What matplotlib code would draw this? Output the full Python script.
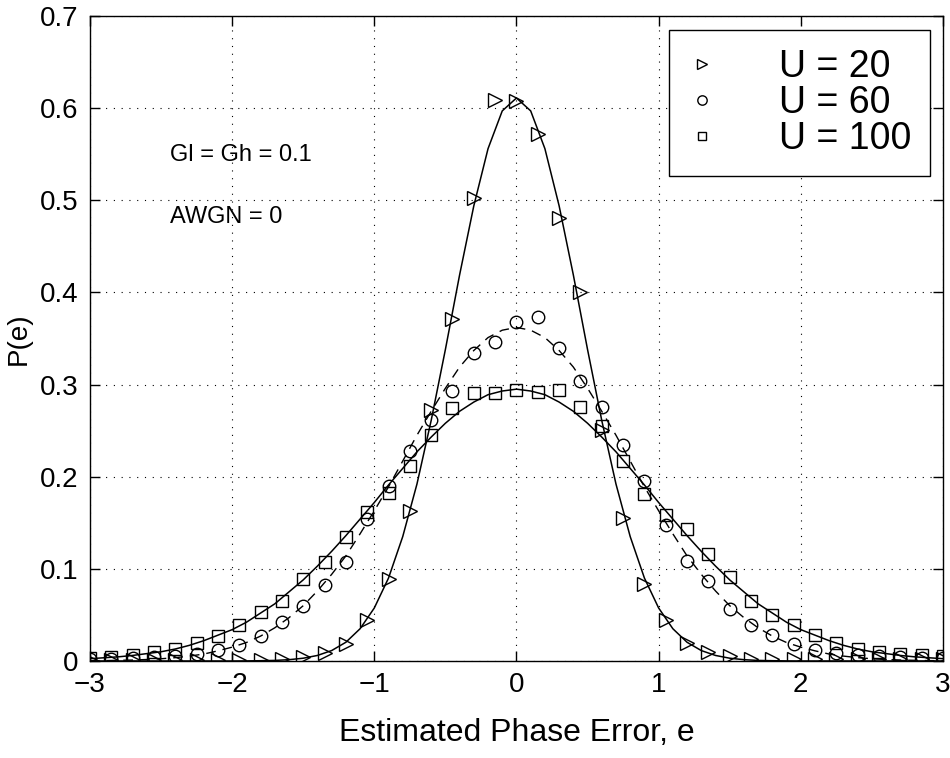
import numpy as np
import matplotlib.pyplot as plt

plt.rcParams['font.family'] = ['Liberation Sans', 'DejaVu Sans']

# simulated points, one every 0.15 rad
e_pts = np.linspace(-3, 3, 41)
p_u20 = [0.001, 0.001, 0.001, 0.001, 0.001, 0.001, 0.001, 0.001, 0.001, 0.002,
         0.004, 0.009, 0.018, 0.044, 0.089, 0.163, 0.272, 0.371, 0.502, 0.609,
         0.608, 0.572, 0.481, 0.400, 0.251, 0.155, 0.084, 0.044, 0.019, 0.010,
         0.005, 0.002, 0.002, 0.002, 0.002, 0.002, 0.002, 0.002, 0.002, 0.002,
         0.002]
p_u60 = [0.002, 0.002, 0.003, 0.004, 0.005, 0.008, 0.012, 0.017, 0.027, 0.042,
         0.060, 0.082, 0.107, 0.154, 0.190, 0.228, 0.262, 0.293, 0.334, 0.346,
         0.368, 0.373, 0.340, 0.304, 0.276, 0.234, 0.195, 0.148, 0.108, 0.087,
         0.056, 0.039, 0.028, 0.018, 0.012, 0.009, 0.006, 0.005, 0.004, 0.003,
         0.003]
p_u100 = [0.003, 0.004, 0.006, 0.010, 0.013, 0.019, 0.027, 0.039, 0.053, 0.065,
          0.089, 0.107, 0.135, 0.162, 0.182, 0.212, 0.245, 0.275, 0.291, 0.291,
          0.294, 0.292, 0.294, 0.276, 0.255, 0.217, 0.181, 0.158, 0.143, 0.116,
          0.091, 0.065, 0.050, 0.039, 0.028, 0.019, 0.013, 0.010, 0.008, 0.006,
          0.005]

# analytic densities, one every 0.1 rad
e_fit = np.linspace(-3, 3, 61)
fit_u20 = [0.0, 0.0, 0.0, 0.0, 0.0, 0.0, 0.0, 0.0, 0.0, 0.0,
           0.0, 0.0001, 0.0003, 0.0006, 0.0014, 0.003, 0.006, 0.0113, 0.0203, 0.035,
           0.0575, 0.090, 0.135, 0.192, 0.261, 0.338, 0.419, 0.494, 0.556, 0.597,
           0.611,
           0.597, 0.556, 0.494, 0.419, 0.338, 0.261, 0.192, 0.135, 0.090, 0.0575,
           0.035, 0.0203, 0.0113, 0.006, 0.003, 0.0014, 0.0006, 0.0003, 0.0001, 0.0,
           0.0, 0.0, 0.0, 0.0, 0.0, 0.0, 0.0, 0.0, 0.0, 0.0]
fit_u60 = [0.0003, 0.0004, 0.0007, 0.001, 0.0016, 0.0024, 0.0036, 0.0053, 0.0075, 0.011,
           0.015, 0.020, 0.027, 0.036, 0.047, 0.060, 0.076, 0.094, 0.114, 0.138,
           0.163, 0.189, 0.217, 0.245, 0.271, 0.296, 0.319, 0.337, 0.351, 0.359,
           0.362,
           0.359, 0.351, 0.337, 0.319, 0.296, 0.271, 0.245, 0.217, 0.189, 0.163,
           0.138, 0.114, 0.094, 0.076, 0.060, 0.047, 0.036, 0.027, 0.020, 0.015,
           0.011, 0.0075, 0.0053, 0.0036, 0.0024, 0.0016, 0.001, 0.0007, 0.0004, 0.0003]
fit_u100 = [0.0025, 0.0035, 0.0045, 0.006, 0.008, 0.010, 0.013, 0.017, 0.022, 0.028,
            0.034, 0.042, 0.052, 0.062, 0.075, 0.088, 0.103, 0.119, 0.136, 0.154,
            0.172, 0.191, 0.209, 0.227, 0.243, 0.258, 0.271, 0.281, 0.289, 0.293,
            0.295,
            0.293, 0.289, 0.281, 0.271, 0.258, 0.243, 0.227, 0.209, 0.191, 0.172,
            0.154, 0.136, 0.119, 0.103, 0.088, 0.075, 0.062, 0.052, 0.042, 0.034,
            0.028, 0.022, 0.017, 0.013, 0.010, 0.008, 0.006, 0.0045, 0.0035, 0.0025]

labels = ['U = 20', 'U = 60', 'U = 100']
yticks = [0, 0.1, 0.2, 0.3, 0.4, 0.5, 0.6, 0.7]
ytick_labels = ['0', '0.1', '0.2', '0.3', '0.4', '0.5', '0.6', '0.7']

fig = plt.figure(figsize=(9.5, 7.58), dpi=100)
ax = fig.add_axes([0.0947, 0.128, 0.8979, 0.8509])

ax.plot(e_fit, fit_u20, 'k-', lw=1.1)
ax.plot(e_fit, fit_u60, 'k--', lw=1.0, dashes=(7, 5))
ax.plot(e_fit, fit_u100, 'k-', lw=1.1)

mk = dict(ls='none', mfc='none', mec='k', mew=1.0)
h1, = ax.plot(e_pts, p_u20, '>', ms=10, **mk)
h2, = ax.plot(e_pts, p_u60, 'o', ms=9, **mk)
h3, = ax.plot(e_pts, p_u100, 's', ms=8, **mk)

ax.set_xlim(-3, 3)
ax.set_ylim(0, 0.7)
ax.set_xticks(range(-3, 4))
ax.set_yticks(yticks)
ax.set_yticklabels(ytick_labels)
ax.grid(True, color='k', linestyle=(0, (1, 6)), lw=0.8)
ax.tick_params(direction='in', top=True, right=True, length=7, width=1,
               labelsize=20)
ax.tick_params(axis='x', pad=8)
ax.tick_params(axis='y', pad=8)
for s in ax.spines.values():
    s.set_linewidth(1.0)

ax.set_xlabel('Estimated Phase Error, e', fontsize=23, labelpad=14)
ax.set_ylabel('P(e)', fontsize=20, labelpad=6)

ax.text(-2.44, 0.549, 'Gl = Gh = 0.1', fontsize=17, va='center')
ax.text(-2.44, 0.482, 'AWGN = 0', fontsize=17, va='center')

leg = ax.legend([h1, h2, h3], labels, loc='upper right',
                bbox_to_anchor=(0.985, 0.978), borderaxespad=0, fontsize=27,
                frameon=True, fancybox=False, edgecolor='k', framealpha=1,
                markerscale=0.75, handlelength=0.75, handletextpad=1.68,
                borderpad=0.5, labelspacing=0.0)
leg.get_frame().set_linewidth(1.0)

fig.savefig('out.png', dpi=100)
